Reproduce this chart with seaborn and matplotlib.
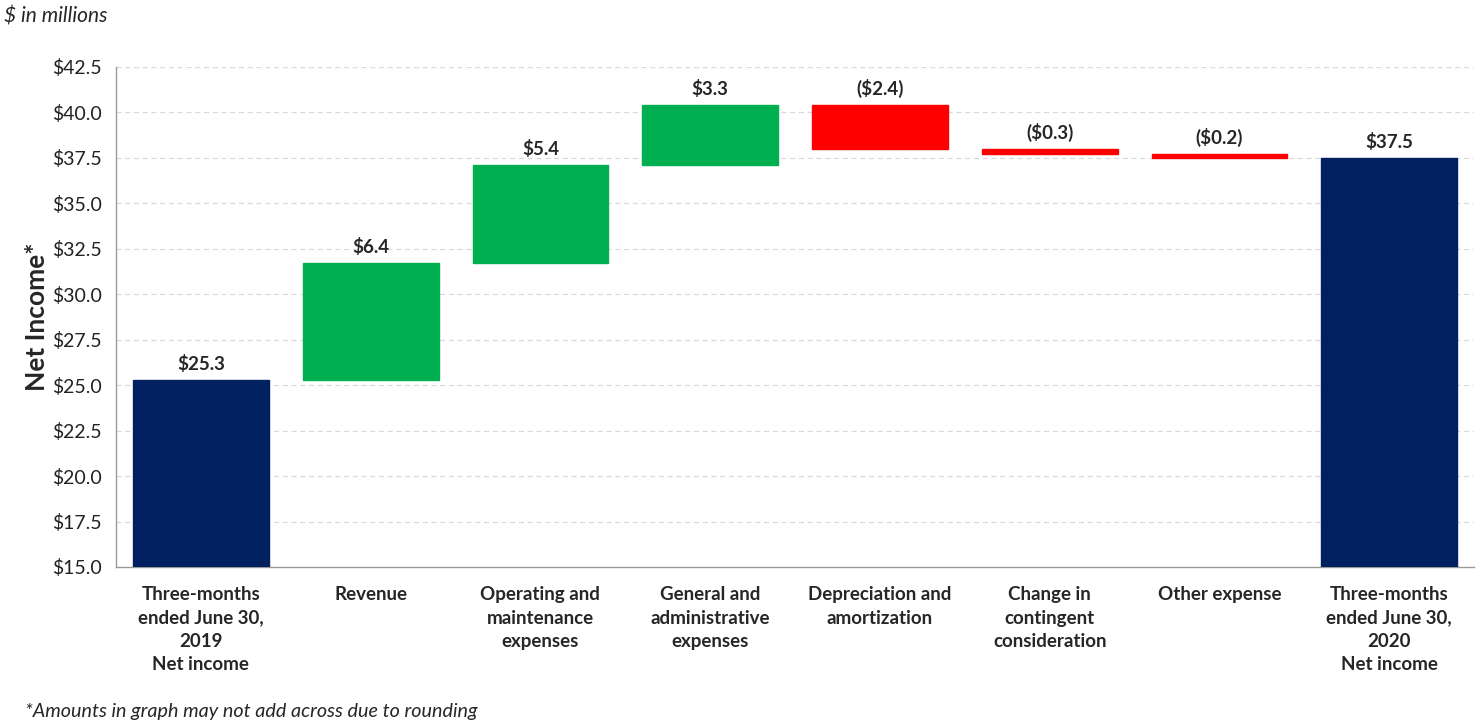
import matplotlib
matplotlib.use("Agg")
import matplotlib.pyplot as plt
import seaborn as sns
import pandas as pd
import numpy as np

categories = [
    "Three-months\nended June 30,\n2019\nNet income",
    "Revenue",
    "Operating and\nmaintenance\nexpenses",
    "General and\nadministrative\nexpenses",
    "Depreciation and\namortization",
    "Change in\ncontingent\nconsideration",
    "Other expense",
    "Three-months\nended June 30,\n2020\nNet income",
]
start_value = 25.3
changes = [6.4, 5.4, 3.3, -2.4, -0.3, -0.2]
end_value = 37.5
value_labels = ["$25.3", "$6.4", "$5.4", "$3.3", "($2.4)", "($0.3)", "($0.2)", "$37.5"]
y_ticks = [15.0, 17.5, 20.0, 22.5, 25.0, 27.5, 30.0, 32.5, 35.0, 37.5, 40.0, 42.5]

NAVY = "#002060"
GREEN = "#00B050"
RED = "#FF0000"

# waterfall: bottoms from running total
running = start_value + np.concatenate([[0], np.cumsum(changes)])
bottoms = [15.0] + list(running[:-1]) + [15.0]
heights = [start_value - 15.0] + changes + [end_value - 15.0]
colors = [NAVY] + [GREEN if c > 0 else RED for c in changes] + [NAVY]

df = pd.DataFrame({"step": categories, "height": heights, "bottom": bottoms})

sns.set_style("white")
plt.rcParams["font.family"] = ["Lato", "DejaVu Sans"]

fig = plt.figure(figsize=(14.8, 7.28), dpi=100)
ax = fig.add_axes([0.0784, 0.2212, 0.9176, 0.6868])

sns.barplot(data=df, x="step", y="height", bottom=df["bottom"].values,
            color=NAVY, width=0.8, errorbar=None, saturation=1, ax=ax, zorder=3)
for patch, c in zip(ax.patches, colors):
    patch.set_facecolor(c)
    patch.set_edgecolor(c)

ax.set_ylim(15.0, 42.5)
ax.set_xlim(-0.5, len(categories) - 0.5)
ax.set_yticks(y_ticks)
ax.set_yticklabels([f"${v:.1f}" for v in y_ticks], fontsize=14, color="#222222")
ax.yaxis.grid(True, linestyle=(0, (4, 3)), color="#d9d9d9", linewidth=0.9, zorder=0)

ax.set_xticks(range(len(categories)))
ax.set_xticklabels(categories, fontsize=13.5, fontweight="bold", linespacing=1.45)
ax.set_xticks(np.arange(-0.5, len(categories)), minor=True)
ax.tick_params(axis="x", which="major", length=0, pad=14)
ax.tick_params(axis="x", which="minor", length=6, color="#999999", width=1)
ax.tick_params(axis="y", length=6, color="#999999", width=1, direction="out", pad=4)

for side in ["top", "right"]:
    ax.spines[side].set_visible(False)
for side in ["left", "bottom"]:
    ax.spines[side].set_color("#999999")
    ax.spines[side].set_linewidth(1)

ax.set_xlabel("")
ax.set_ylabel("Net Income*", fontsize=19, fontweight="bold", labelpad=2)

for i, (b, h, lab) in enumerate(zip(bottoms, heights, value_labels)):
    top = max(b, b + h)
    ax.annotate(lab, (i, top), xytext=(0, 5), textcoords="offset points",
                ha="center", va="bottom", fontsize=13.5, fontweight="bold")

fig.text(0.003, 0.977, "$ in millions", fontsize=15, style="italic", va="center")
fig.text(0.017, 0.022, "*Amounts in graph may not add across due to rounding",
         fontsize=14.2, style="italic", va="center")

fig.savefig("out.png", dpi=100)
